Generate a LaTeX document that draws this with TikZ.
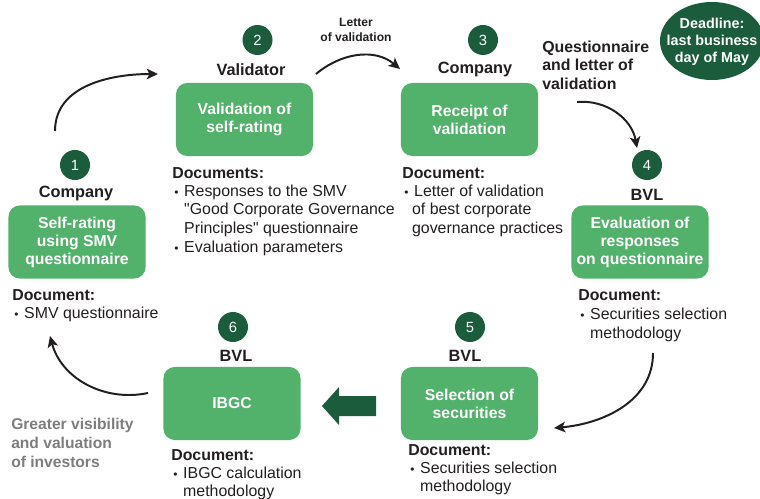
\documentclass[tikz,border=0pt]{standalone}
\usepackage{fontspec}
\setmainfont{Liberation Sans}[Ligatures=TeXOff]
\usetikzlibrary{arrows.meta}
\definecolor{boxgreen}{RGB}{82,177,106}
\definecolor{darkgreen}{RGB}{26,92,60}
\definecolor{inktext}{RGB}{35,31,32}
\definecolor{notegray}{RGB}{125,125,125}
\tikzset{
  stagebox/.style={rectangle, rounded corners=8pt, fill=boxgreen, minimum width=3.425cm,
    minimum height=1.825cm, align=center, text=white, inner sep=0pt,
    font=\fontsize{11.2}{12.8}\selectfont\bfseries},
  numdot/.style={circle, fill=darkgreen, text=white, minimum size=0.75cm, inner sep=0pt,
    font=\fontsize{10.5}{12}\selectfont},
  actor/.style={text=inktext, inner sep=0pt, font=\fontsize{11.6}{13}\selectfont\bfseries},
  doclist/.style={anchor=north west, align=left, text=inktext, inner sep=0pt,
    font=\fontsize{11.3}{13.3}\selectfont},
  flow/.style={-{Stealth[length=8pt,width=7.5pt,inset=2pt]}, line width=1.4pt, inktext},
}
\newcommand{\bul}{\hspace*{1.4pt}\makebox[7.1pt][l]{\scalebox{0.75}{\textbullet}}}
\newcommand{\cont}{\hspace*{8.5pt}}
\begin{document}
\begin{tikzpicture}[x=0.025cm,y=-0.025cm]
\useasboundingbox (0,0) rectangle (760,498);
% stages
\node[stagebox] (B1) at (77,242) {Self-rating\\using SMV\\questionnaire};
\node[stagebox] (B2) at (244.5,119.5) {Validation of\\self-rating};
\node[stagebox] (B3) at (469.5,119.5) {Receipt of\\validation};
\node[stagebox] (B4) at (640,242) {Evaluation of\\responses\\on questionnaire};
\node[stagebox] (B5) at (469.5,403.5) {Selection of\\securities};
\node[stagebox] (B6) at (232,403.5) {IBGC};
% step numbers
\node[numdot] (N1) at (75,165) {1};
\node[numdot] (N2) at (257.5,40) {2};
\node[numdot] (N3) at (483,40) {3};
\node[numdot] (N4) at (647,165) {4};
\node[numdot] (N5) at (470,327) {5};
\node[numdot] (N6) at (233,327) {6};
% who does it
\node[actor] (R1) at (76,193) {Company};
\node[actor] (R2) at (251,70) {Validator};
\node[actor] (R3) at (475,70) {Company};
\node[actor] (R4) at (647,195) {BVL};
\node[actor] (R5) at (465,356) {BVL};
\node[actor] (R6) at (236,356) {BVL};
% documents
\node[doclist] (D1) at (12,289.5) {\textbf{Document:}\\[-1pt]\bul SMV questionnaire};
\node[doclist] (D2) at (172,167.5) {\textbf{Documents:}\\[-1pt]\bul Responses to the SMV\\
  \cont"Good Corporate Governance\\\cont Principles" questionnaire\\\bul Evaluation parameters};
\node[doclist] (D3) at (402,167.5) {\textbf{Document:}\\[-1pt]\bul Letter of validation\\
  \hspace*{7pt}of best corporate\\\hspace*{7pt}governance practices};
\node[doclist] (D4) at (578,289.5) {\textbf{Document:}\\\bul Securities selection\\\cont methodology};
\node[doclist] (D5) at (408,444.5) {\textbf{Document:}\\[-1pt]\bul Securities selection\\\cont methodology};
\node[doclist] (D6) at (171,449.5) {\textbf{Document:}\\[-1pt]\bul IBGC calculation\\\cont methodology};
% notes
\node[align=center, text=inktext, inner sep=0pt, font=\fontsize{8.6}{10.6}\selectfont\bfseries]
  (L23) at (356,29.5) {Letter\\of validation};
\node[doclist, font=\fontsize{11.3}{13.1}\selectfont\bfseries] (L34) at (542,40.5)
  {Questionnaire\\and letter of\\validation};
\node[doclist, text=notegray, font=\fontsize{11.1}{13.8}\selectfont\bfseries] (L61) at (11,417.5)
  {Greater visibility\\and valuation\\of investors};
\fill[darkgreen] (712,41) ellipse [x radius=1.3cm, y radius=0.975cm];
\node[text=white, inner sep=0pt, align=center, font=\fontsize{10.2}{12}\selectfont\bfseries]
  (DL) at (712,42) {Deadline:\\last business\\day of May};
% flow arrows
\coordinate (A1s) at (55,131);
\coordinate (A1e) at (158,74);
\coordinate (A2s) at (316,74);
\coordinate (A2e) at (400,69);
\coordinate (A3s) at (577,102);
\coordinate (A3e) at (637,148);
\coordinate (A4s) at (653,353);
\coordinate (A4e) at (554,428);
\coordinate (A6s) at (148,393);
\coordinate (A6e) at (50,336);
\draw[flow] (A1s) to[out=90,in=180] (A1e);
\draw[flow] (A2s) to[out=40,in=140] (A2e);
\draw[flow] (A3s) to[out=5,in=100] (A3e);
\draw[flow] (A4s) to[out=-90,in=5] (A4e);
\draw[flow] (A6s) to[out=192,in=-75] (A6e);
% block arrow from 5 to 6
\fill[darkgreen] (376,396) -- (339,396) -- (339,387) -- (322,406) -- (339,425) -- (339,416) -- (376,416) -- cycle;
\end{tikzpicture}
\end{document}
